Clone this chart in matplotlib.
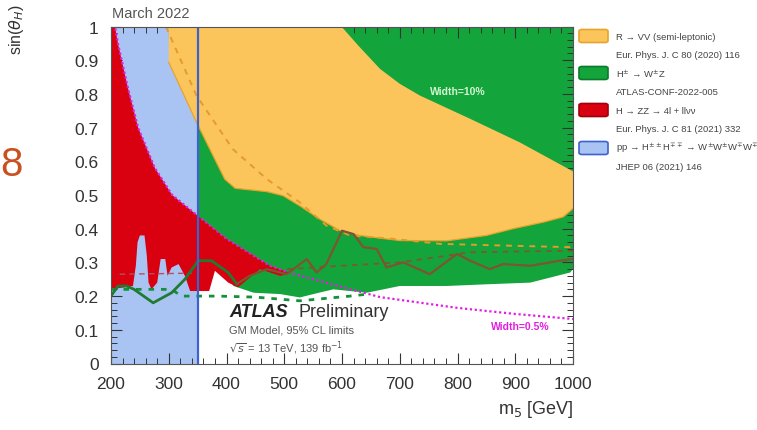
import matplotlib.pyplot as plt
import numpy as np
from matplotlib.patches import FancyBboxPatch
from matplotlib.ticker import MultipleLocator

plt.rcParams['font.family'] = ['Liberation Sans', 'DejaVu Sans']

# --- data (m5 in GeV, sin(theta_H)) ---
blue_range = [200, 350]

orange_low_m = [300, 348, 397, 415, 470, 498, 527, 560, 597, 631, 666, 700, 781, 850, 896, 950, 983, 1000]
orange_low_s = [0.894, 0.716, 0.547, 0.52, 0.51, 0.498, 0.468, 0.43, 0.394, 0.38, 0.372, 0.365, 0.364, 0.38, 0.40, 0.42, 0.435, 0.46]
orange_up_m = [300, 599, 630, 666, 700, 735, 822, 908, 1000]
orange_up_s = [1.0, 1.0, 0.94, 0.874, 0.83, 0.795, 0.726, 0.656, 0.57]
orange_exp_m = [295, 348, 411, 470, 527, 573, 614, 688, 770, 880, 1000]
orange_exp_s = [1.0, 0.795, 0.636, 0.547, 0.478, 0.409, 0.38, 0.37, 0.355, 0.35, 0.345]

green_low_m = [350, 380, 400, 412, 447, 493, 527, 560, 585, 643, 700, 781, 850, 926, 995, 1000]
green_low_s = [0.35, 0.30, 0.26, 0.23, 0.21, 0.206, 0.196, 0.21, 0.22, 0.21, 0.23, 0.23, 0.235, 0.24, 0.27, 0.28]

red_low_m = [200, 238, 243, 246, 250, 258, 262, 265, 270, 280, 286, 294, 298, 305, 317, 328, 337, 370, 380, 403, 420, 458, 493, 512]
red_low_s = [0.22, 0.23, 0.29, 0.36, 0.38, 0.38, 0.32, 0.24, 0.22, 0.24, 0.31, 0.31, 0.26, 0.285, 0.295, 0.26, 0.215, 0.215, 0.275, 0.24, 0.226, 0.28, 0.26, 0.268]

width05_m = [200, 207, 212, 229, 247, 276, 306, 349, 400, 475, 512, 550, 666, 800, 900, 1000]
width05_s = [1.08, 1.0, 0.95, 0.82, 0.70, 0.58, 0.50, 0.44, 0.37, 0.29, 0.268, 0.25, 0.197, 0.165, 0.147, 0.132]

obs_green_m = [200, 212, 227, 240, 273, 305, 328, 351, 374, 403, 418]
obs_green_s = [0.20, 0.23, 0.23, 0.22, 0.18, 0.21, 0.25, 0.305, 0.305, 0.27, 0.236]
exp_green_m = [200, 247, 305, 322, 385, 450, 527, 614, 640]
exp_green_s = [0.22, 0.22, 0.22, 0.20, 0.20, 0.197, 0.186, 0.20, 0.205]

obs_brown_m = [418, 440, 470, 504, 539, 556, 573, 600, 620, 637, 660, 677, 706, 752, 799, 822, 856, 879, 926, 977, 1000]
obs_brown_s = [0.236, 0.26, 0.28, 0.265, 0.31, 0.27, 0.295, 0.394, 0.384, 0.345, 0.34, 0.285, 0.30, 0.265, 0.325, 0.305, 0.28, 0.295, 0.29, 0.305, 0.31]
exp_brown_m = [505, 600, 700, 822, 1000]
exp_brown_s = [0.28, 0.29, 0.30, 0.33, 0.335]
exp_red_m = [215, 340]
exp_red_s = [0.265, 0.268]

legend_rows = [
    ('#fbc55c', '#e8a32a', 'R → VV (semi-leptonic)', 'Eur. Phys. J. C 80 (2020) 116'),
    ('#14a43c', '#0c7a2a', 'H$^{\\pm}$ → W$^{\\pm}$Z', 'ATLAS-CONF-2022-005'),
    ('#d9000f', '#a0000a', 'H → ZZ → 4l + llνν', 'Eur. Phys. J. C 81 (2021) 332'),
    ('#a9c4f2', '#3c62cf', 'pp → H$^{\\pm\\pm}$H$^{\\mp\\mp}$ → W$^{\\pm}$W$^{\\pm}$W$^{\\mp}$W$^{\\mp}$', 'JHEP 06 (2021) 146'),
]

fig = plt.figure(figsize=(7.57, 4.31), dpi=100)
ax = fig.add_axes([111 / 757, 1 - 364.5 / 431, 462 / 757, 337 / 431])

# blue region
ax.axvspan(blue_range[0], blue_range[1], color='#a9c4f2', lw=0, zorder=1)

# green region
gx = green_low_m + [1000, 350]
gy = green_low_s + [1.0, 1.0]
ax.fill(gx, gy, color='#14a43c', lw=0, zorder=0.5)

# orange region, edge only along the lower limit
ox = orange_low_m + orange_up_m[::-1]
oy = orange_low_s + orange_up_s[::-1]
ax.fill(ox, oy, color='#fbc55c', lw=0, zorder=2)
ax.plot(orange_low_m, orange_low_s, color='#e8a32a', lw=0.9, zorder=2.1)

# red region (bounded by Width=0.5% line)
wm = np.array(width05_m)
ws = np.array(width05_s)
keep = wm <= 512
rx = red_low_m + list(wm[keep][::-1])
ry = red_low_s + list(ws[keep][::-1])
ax.fill(rx, ry, color='#d9000f', lw=0, zorder=3)

# lines
ax.plot(width05_m, width05_s, color='#e31ee3', ls=(0, (1, 1.2)), lw=1.6, zorder=6)
ax.plot(orange_exp_m, orange_exp_s, color='#e39b2c', ls=(0, (3, 3)), lw=1.4, zorder=5)
ax.plot(exp_red_m, exp_red_s, color='#b0506a', ls=(0, (4, 3)), lw=1.0, zorder=5)
ax.plot(exp_green_m, exp_green_s, color='#12913a', ls=(0, (2, 2.5)), lw=2.0, zorder=5)
ax.plot(exp_brown_m, exp_brown_s, color='#7a5a2a', ls=(0, (3, 3)), lw=1.3, zorder=5)
ax.plot(obs_green_m, obs_green_s, color='#217a32', lw=2.0, zorder=6)
ax.plot(obs_brown_m, obs_brown_s, color='#7d5530', lw=1.6, zorder=6)
ax.axvline(350, color='#3c62cf', lw=1.6, zorder=7)

ax.text(800, 0.81, 'Width=10%', color='#d4f5cf', fontsize=7.5, fontweight='bold',
        ha='center', va='center', zorder=8)
ax.text(960, 0.11, 'Width=0.5%', color='#e31ee3', fontsize=7.5, fontweight='bold',
        ha='right', va='center', zorder=8)

ax.text(405, 0.153, 'ATLAS', fontsize=13, fontweight='bold', fontstyle='italic',
        color='#222222', va='center', zorder=8)
ax.text(525, 0.153, 'Preliminary', fontsize=13, color='#333333', va='center', zorder=8)
ax.text(405, 0.1, 'GM Model, 95% CL limits', fontsize=8, color='#555555', va='center', zorder=8)
ax.text(405, 0.047, r'$\sqrt{s}$ = 13 TeV, 139 fb$^{-1}$', fontsize=8, color='#555555',
        va='center', zorder=8)

ax.set_xlim(200, 1000)
ax.set_ylim(0, 1)
ax.xaxis.set_major_locator(MultipleLocator(100))
ax.xaxis.set_minor_locator(MultipleLocator(20))
ax.yaxis.set_major_locator(MultipleLocator(0.1))
ax.yaxis.set_minor_locator(MultipleLocator(0.02))
ax.set_yticks(np.arange(0, 1.01, 0.1))
ax.set_yticklabels(['0', '0.1', '0.2', '0.3', '0.4', '0.5', '0.6', '0.7', '0.8', '0.9', '1'])
ax.tick_params(which='both', direction='in', top=True, right=True, colors='#333333',
               labelsize=12.5, labelcolor='#333333')
ax.tick_params(which='major', length=8, width=0.8)
ax.tick_params(which='minor', length=4, width=0.7)
ax.tick_params(axis='y', pad=9)
ax.tick_params(axis='x', pad=9)
for sp in ax.spines.values():
    sp.set_color('#555555')
    sp.set_linewidth(0.8)
    sp.set_zorder(10)

fig.text(17 / 757, 1 - 4 / 431, r'sin($\theta_H$)', rotation=90, ha='center', va='top',
         fontsize=11.5, color='#333333')
fig.text(573 / 757, 1 - 410 / 431, r'm$_5$ [GeV]', ha='right', va='center',
         fontsize=13, color='#333333')
fig.text(112 / 757, 1 - 14 / 431, 'March 2022', ha='left', va='center',
         fontsize=10.5, color='#555555')
fig.text(11 / 757, 1 - 165 / 431, '8', ha='center', va='center', fontsize=29, color='#c9511f')

# legend drawn at figure level
row_y = [37, 74, 111, 149]
for (fc, ec, lab, ref), y in zip(legend_rows, row_y):
    box = FancyBboxPatch((579 / 757, 1 - (y + 6.5) / 431), 29 / 757, 13 / 431,
                         boxstyle='round,pad=0,rounding_size=0.004',
                         transform=fig.transFigure, facecolor=fc, edgecolor=ec, lw=1.2)
    fig.add_artist(box)
    fig.text(616 / 757, 1 - y / 431, lab, fontsize=6.8, color='#444444', va='center')
    fig.text(616 / 757, 1 - (y + 18.5) / 431, ref, fontsize=6.8, color='#444444', va='center')

fig.savefig('out.png', dpi=100)
